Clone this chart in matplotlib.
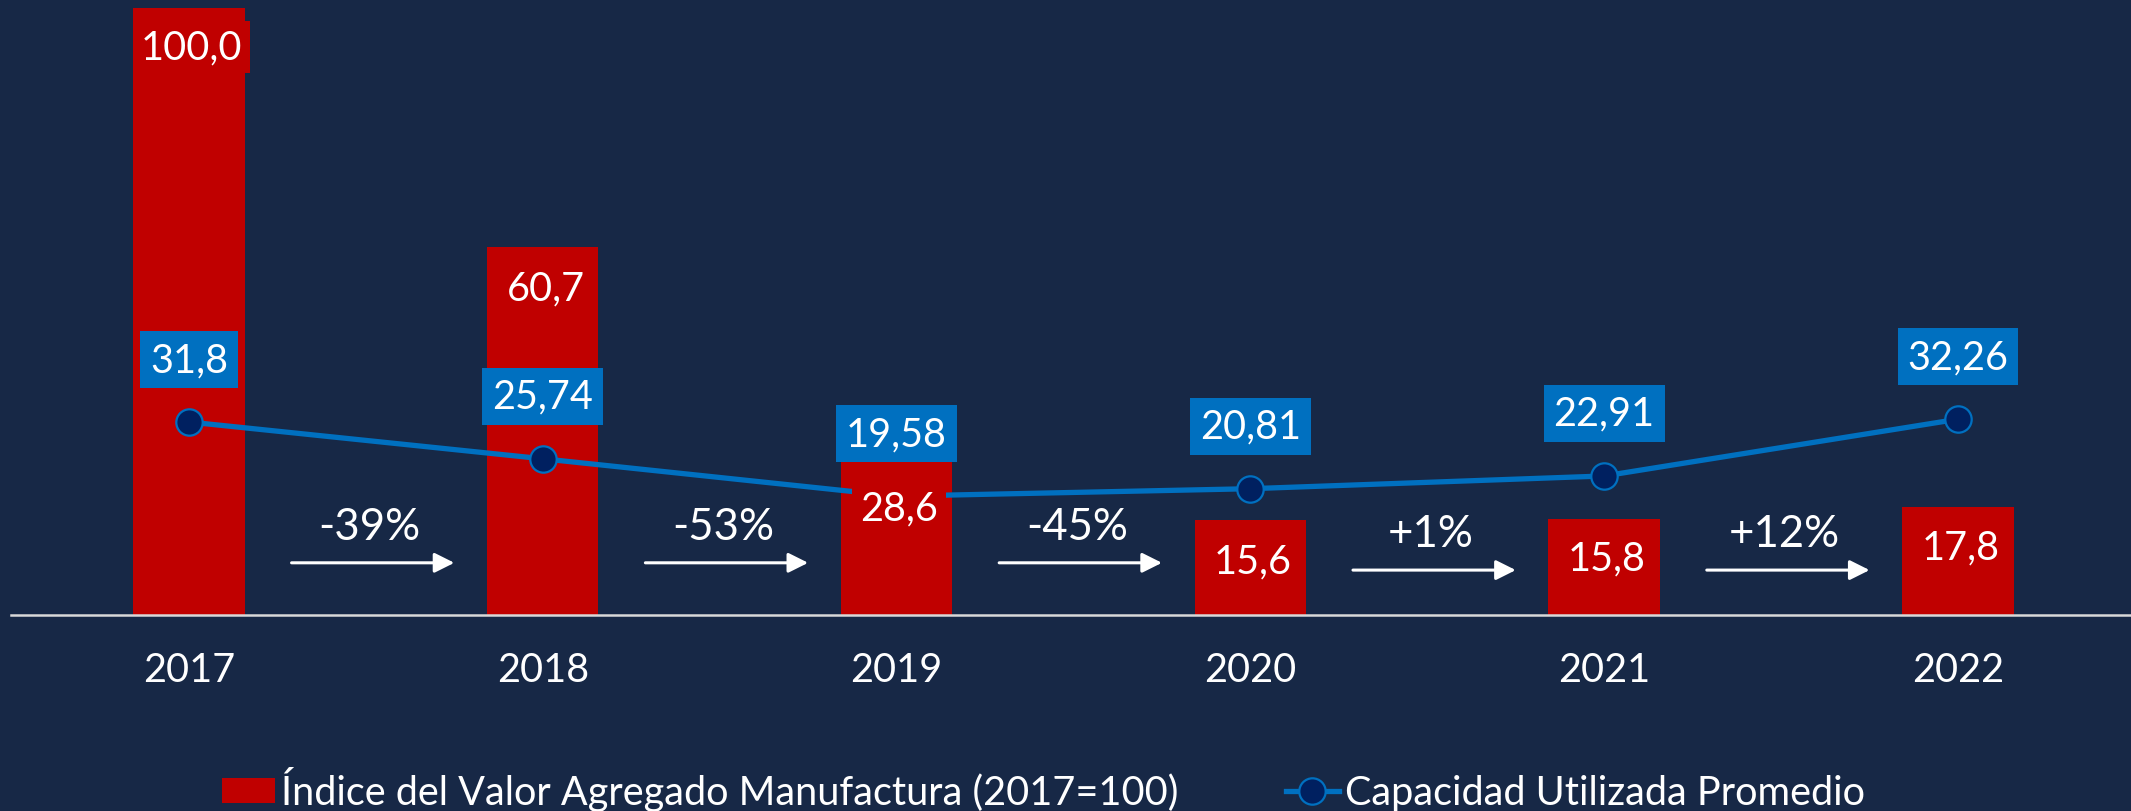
import matplotlib
matplotlib.use('Agg')
import matplotlib.pyplot as plt
from matplotlib.patches import Patch
from matplotlib.lines import Line2D

#=============================================================================#
# Data #
#=============================================================================#
years = ['2017', '2018', '2019', '2020', '2021', '2022']
indice = [100.0, 60.7, 28.6, 15.6, 15.8, 17.8]
indice_labels = ['100,0', '60,7', '28,6', '15,6', '15,8', '17,8']
capacidad = [31.8, 25.74, 19.58, 20.81, 22.91, 32.26]
capacidad_labels = ['31,8', '25,74', '19,58', '20,81', '22,91', '32,26']
variacion = ['-39%', '-53%', '-45%', '+1%', '+12%']

#=============================================================================#
# Style #
#=============================================================================#
bg = '#172846'
red = '#C00000'
blue = '#0070C0'
navy = '#002060'
plt.rcParams['font.family'] = ['Lato', 'DejaVu Sans']
fs = 28.5

bar_label_dy = [-28, -30, -48, -29, -28, -29]   # points below bar top
arrow_y = [8.6, 8.6, 8.6, 7.4, 7.4]
text_y = [14.6, 14.6, 14.6, 13.5, 13.5]

fig = plt.figure(figsize=(21.31, 8.12), dpi=100, facecolor=bg)
ax = fig.add_axes([11 / 2131, 196 / 812, 1 - 11 / 2131, 616 / 812])
ax.set_facecolor(bg)

x = list(range(len(years)))
ax.bar(x, indice, width=0.315, color=red, zorder=1)
ax.plot(x, capacidad, color=blue, lw=3.8, marker='o', ms=19,
        mfc=navy, mec=blue, mew=1.6, zorder=2)

# blue labels above the markers
for i, v in enumerate(capacidad):
    ax.annotate(capacidad_labels[i], (i, v), xytext=(0, 45), textcoords='offset points',
                ha='center', va='center', color='white', fontsize=fs, zorder=3,
                bbox=dict(boxstyle='square,pad=0.25', fc=blue, ec='none'))

# red labels inside the bars
for i, v in enumerate(indice):
    ax.annotate(indice_labels[i], (i, v), xytext=(2, bar_label_dy[i]), textcoords='offset points',
                ha='center', va='center', color='white', fontsize=fs, zorder=4,
                bbox=dict(boxstyle='square,pad=0.2', fc=red, ec='none'))

# growth arrows between the years
for i, t in enumerate(variacion):
    mid = i + 0.52
    ax.annotate('', xy=(mid + 0.23, arrow_y[i]), xytext=(mid - 0.23, arrow_y[i]),
                arrowprops=dict(arrowstyle='-|>,head_length=0.6,head_width=0.3',
                                color='white', lw=2.2, mutation_scale=20,
                                shrinkA=0, shrinkB=0), zorder=3)
    ax.text(mid - 0.01, text_y[i], t, ha='center', va='center', color='white', fontsize=31.5)

ax.set_xlim(-0.503, 5.489)
ax.set_ylim(0, 101.5)
ax.set_xticks(x)
ax.set_xticklabels(years, color='white', fontsize=fs)
ax.tick_params(axis='x', length=0, pad=26)
ax.set_yticks([])
for s in ['top', 'left', 'right']:
    ax.spines[s].set_visible(False)
ax.spines['bottom'].set_color('#D9D9D9')
ax.spines['bottom'].set_linewidth(1.8)

handles = [Patch(fc=red, ec='none', label='Índice del Valor Agregado Manufactura (2017=100)'),
           Line2D([], [], color=blue, lw=3.8, marker='o', ms=19, mfc=navy, mec=blue,
                  mew=1.6, label='Capacidad Utilizada Promedio')]
fig.legend(handles=handles, loc='center left', bbox_to_anchor=(222 / 2131, 22 / 812),
           ncol=2, frameon=False, fontsize=fs, labelcolor='white', borderpad=0,
           borderaxespad=0, handlelength=1.35, handleheight=0.62, handletextpad=0.15,
           columnspacing=2.7)

fig.savefig('out.png', dpi=100, facecolor=bg)
